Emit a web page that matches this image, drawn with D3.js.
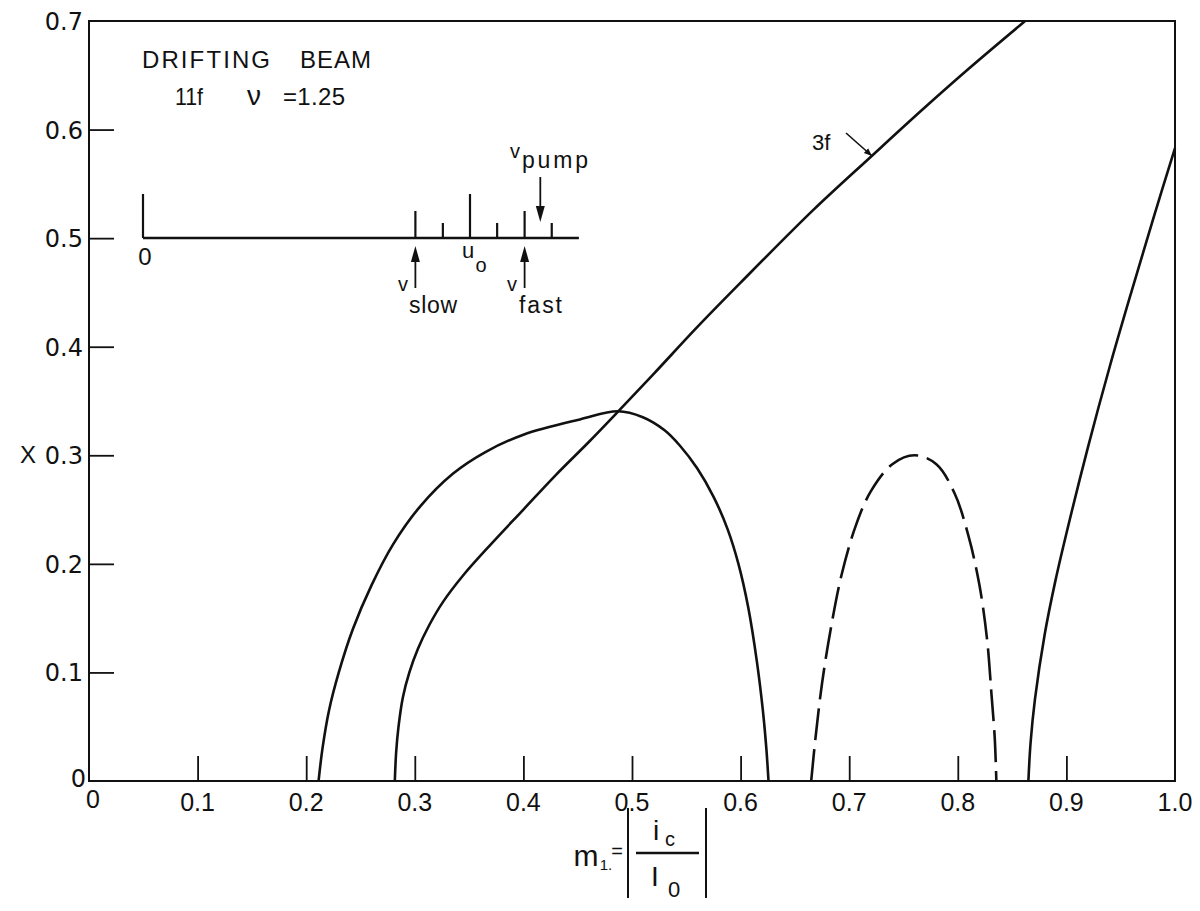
<!DOCTYPE html>
<html>
<head>
<meta charset="utf-8">
<script src="https://cdn.jsdelivr.net/npm/d3@7/dist/d3.min.js"></script>
<style>
  html, body { margin: 0; padding: 0; background: #fff; }
  svg { display: block; }
  text { fill: #111; font-family: "Liberation Sans", "DejaVu Sans", sans-serif; }
  .xt { font-family: "Liberation Sans Narrow", "Liberation Sans", sans-serif; font-stretch: condensed; }
  .yt { font-family: "DejaVu Sans", sans-serif; }
</style>
</head>
<body>
<svg id="chart" width="1200" height="911"></svg>
<script>
// ---- data -------------------------------------------------------------
const xTicks = [0.1, 0.2, 0.3, 0.4, 0.5, 0.6, 0.7, 0.8, 0.9];
const xTickLabels = ["0.1", "0.2", "0.3", "0.4", "0.5", "0.6", "0.7", "0.8", "0.9"];
const yTicks = [0.1, 0.2, 0.3, 0.4, 0.5, 0.6];
const yTickLabels = ["0.1", "0.2", "0.3", "0.4", "0.5", "0.6"];

// lower-threshold branch that peaks near m1 = 0.49
const humpM = [0.2114, 0.215, 0.221, 0.23, 0.243, 0.26, 0.28, 0.305, 0.335, 0.365, 0.40, 0.452, 0.487,
               0.51, 0.53, 0.544, 0.56, 0.575, 0.588, 0.598, 0.607, 0.615, 0.6205, 0.6237, 0.6257];
const humpX = [0, 0.03, 0.065, 0.10, 0.14, 0.18, 0.218, 0.253, 0.283, 0.303, 0.319, 0.333, 0.3405,
               0.335, 0.323, 0.309, 0.288, 0.262, 0.232, 0.20, 0.16, 0.11, 0.065, 0.03, 0];

// 3f branch
const threeFM = [0.2816, 0.2828, 0.285, 0.289, 0.295, 0.303, 0.313, 0.326, 0.345, 0.37, 0.40, 0.43, 0.46, 0.486,
                 0.52, 0.56, 0.60, 0.667, 0.72, 0.767, 0.81, 0.862];
const threeFX = [0, 0.026, 0.05, 0.077, 0.10, 0.122, 0.143, 0.165, 0.19, 0.218, 0.25, 0.282, 0.312, 0.339,
                 0.375, 0.418, 0.459, 0.526, 0.575, 0.618, 0.656, 0.70];

// dashed branch
const dashM = [0.665, 0.669, 0.675, 0.683, 0.693, 0.706, 0.72, 0.74, 0.76, 0.78, 0.797, 0.81, 0.82, 0.827, 0.831, 0.834, 0.8355];
const dashX = [0, 0.04, 0.09, 0.14, 0.19, 0.235, 0.267, 0.292, 0.30, 0.292, 0.265, 0.225, 0.18, 0.13, 0.08, 0.04, 0];

// upper branch
const rightM = [0.865, 0.867, 0.871, 0.88, 0.89, 0.90, 0.92, 0.94, 0.96, 0.98, 1.0];
const rightX = [0, 0.035, 0.075, 0.135, 0.185, 0.228, 0.308, 0.382, 0.451, 0.518, 0.583];

// inset: velocity ticks in units of u0
const insetV = [0, 0.833, 0.917, 1.0, 1.083, 1.167, 1.25];
const insetKind = ["major", "mid", "minor", "major", "minor", "mid", "minor"];

// ---- layout ---------------------------------------------------------------
const svg = d3.select("#chart");
const x = d3.scaleLinear().domain([0, 1]).range([89, 1175]);
const y = d3.scaleLinear().domain([0, 0.7]).range([781, 21]);

const zip = (a, b) => a.map((v, i) => [v, b[i]]);
const line = d3.line().x(d => x(d[0])).y(d => y(d[1])).curve(d3.curveCatmullRom.alpha(0.5));

// frame
svg.append("rect")
  .attr("x", x(0)).attr("y", y(0.7))
  .attr("width", x(1) - x(0)).attr("height", y(0) - y(0.7))
  .attr("fill", "none").attr("stroke", "#111").attr("stroke-width", 2);

// x axis: inward ticks
const xAxis = d3.axisBottom(x).tickValues(xTicks).tickSize(-25).tickFormat("");
const gx = svg.append("g").attr("transform", `translate(0,${y(0)})`).call(xAxis);
gx.select(".domain").remove();
gx.selectAll(".tick line").attr("stroke", "#111").attr("stroke-width", 1.8);

svg.selectAll("text.xt").data(xTicks).join("text")
  .attr("class", "xt")
  .attr("x", d => x(d)).attr("y", y(0) + 30)
  .attr("text-anchor", "middle").attr("font-size", 25)
  .text((d, i) => xTickLabels[i]);
svg.append("text").attr("class", "xt").attr("x", x(0) + 4).attr("y", y(0) + 27)
  .attr("text-anchor", "middle").attr("font-size", 25).text("0");
svg.append("text").attr("class", "xt").attr("x", x(1)).attr("y", y(0) + 30)
  .attr("text-anchor", "middle").attr("font-size", 25).text("1.0");

// y axis: inward ticks
const yAxis = d3.axisLeft(y).tickValues(yTicks).tickSize(-25).tickFormat("");
const gy = svg.append("g").attr("transform", `translate(${x(0)},0)`).call(yAxis);
gy.select(".domain").remove();
gy.selectAll(".tick line").attr("stroke", "#111").attr("stroke-width", 1.8);

svg.selectAll("text.yt").data(yTicks).join("text")
  .attr("class", "yt")
  .attr("x", x(0) - 6).attr("y", d => y(d) + 9)
  .attr("text-anchor", "end").attr("font-size", 24)
  .text((d, i) => yTickLabels[i]);
svg.append("text").attr("class", "yt").attr("x", x(0) - 6).attr("y", y(0.7) + 9)
  .attr("text-anchor", "end").attr("font-size", 24).text("0.7");
svg.append("text").attr("class", "yt").attr("x", x(0) - 3).attr("y", y(0) + 6)
  .attr("text-anchor", "end").attr("font-size", 24).text("0");

// axis titles
svg.append("text").attr("x", 28).attr("y", y(0.3) + 8)
  .attr("text-anchor", "middle").attr("font-size", 24).text("X");

const xl = svg.append("g");
xl.append("text").attr("x", 586).attr("y", 866).attr("font-size", 30).attr("text-anchor", "middle").text("m");
xl.append("text").attr("x", 606).attr("y", 870).attr("font-size", 15).attr("text-anchor", "middle").text("1.");
xl.append("text").attr("x", 617).attr("y", 858).attr("font-size", 20).attr("text-anchor", "middle").text("=");
xl.append("line").attr("x1", 628).attr("x2", 628).attr("y1", 808).attr("y2", 898).attr("stroke", "#111").attr("stroke-width", 2);
xl.append("line").attr("x1", 706).attr("x2", 706).attr("y1", 808).attr("y2", 898).attr("stroke", "#111").attr("stroke-width", 2);
xl.append("line").attr("x1", 636).attr("x2", 699).attr("y1", 853).attr("y2", 853).attr("stroke", "#111").attr("stroke-width", 2.5);
xl.append("text").attr("x", 656).attr("y", 840).attr("font-size", 28).attr("text-anchor", "middle").text("i");
xl.append("text").attr("x", 670).attr("y", 846).attr("font-size", 20).attr("text-anchor", "middle").text("c");
xl.append("text").attr("x", 655).attr("y", 886).attr("font-size", 28).attr("text-anchor", "middle").attr("font-family", "DejaVu Serif").text("I");
xl.append("text").attr("x", 674).attr("y", 897).attr("font-size", 22).attr("text-anchor", "middle").text("0");

// ---- curves ---------------------------------------------------------------
const curves = svg.append("g").attr("fill", "none").attr("stroke", "#111").attr("stroke-width", 2.6);
curves.append("path").attr("d", line(zip(humpM, humpX)));
curves.append("path").attr("d", line(zip(threeFM, threeFX)));
curves.append("path").attr("d", line(zip(rightM, rightX)));
curves.append("path").attr("d", line(zip(dashM, dashX))).attr("stroke-dasharray", "32 9");

// 3f annotation
svg.append("defs").append("marker")
  .attr("id", "head").attr("viewBox", "0 0 10 10").attr("refX", 10).attr("refY", 5)
  .attr("markerWidth", 5).attr("markerHeight", 5).attr("orient", "auto")
  .append("path").attr("d", "M0,1 L10,5 L0,9 Z").attr("fill", "#111");
svg.append("line").attr("x1", 846).attr("y1", 133).attr("x2", 872).attr("y2", 156)
  .attr("stroke", "#111").attr("stroke-width", 1.6).attr("marker-end", "url(#head)");
svg.append("text").attr("x", 812).attr("y", 150).attr("font-size", 22).text("3f");

// ---- inset ----------------------------------------------------------------
const iv = d3.scaleLinear().domain([0, 1]).range([143, 470]);
const base = 238;
const tickLen = { major: 44, mid: 27, minor: 15 };
const inset = svg.append("g").attr("stroke", "#111");
inset.append("line").attr("x1", iv(0)).attr("x2", iv(1.333)).attr("y1", base).attr("y2", base).attr("stroke-width", 2.4);
inset.selectAll(".it").data(insetV).join("line")
  .attr("x1", d => iv(d)).attr("x2", d => iv(d))
  .attr("y1", base).attr("y2", (d, i) => base - tickLen[insetKind[i]])
  .attr("stroke-width", 2.2);

function upArrow(v) {
  const cx = iv(v);
  inset.append("line").attr("x1", cx).attr("x2", cx).attr("y1", 288).attr("y2", 258).attr("stroke-width", 1.8);
  inset.append("path").attr("d", `M${cx},246 L${cx - 4.5},262 L${cx + 4.5},262 Z`).attr("fill", "#111").attr("stroke", "none");
}
upArrow(0.833);
upArrow(1.167);
const pv = iv(1.215);
inset.append("line").attr("x1", pv).attr("x2", pv).attr("y1", 177).attr("y2", 210).attr("stroke-width", 1.8);
inset.append("path").attr("d", `M${pv},222 L${pv - 4.5},206 L${pv + 4.5},206 Z`).attr("fill", "#111").attr("stroke", "none");

svg.append("text").attr("x", iv(0) + 2).attr("y", 265).attr("font-size", 24).attr("text-anchor", "middle").text("0");
svg.append("text").attr("x", 468).attr("y", 258).attr("font-size", 22).attr("text-anchor", "middle").text("u");
svg.append("text").attr("x", 481).attr("y", 272).attr("font-size", 20).attr("text-anchor", "middle").text("o");

svg.append("text").attr("x", 398).attr("y", 291).attr("font-size", 20).text("v");
svg.append("text").attr("x", 409).attr("y", 313).attr("font-size", 23).attr("textLength", 48).text("slow");
svg.append("text").attr("x", 507).attr("y", 291).attr("font-size", 20).text("v");
svg.append("text").attr("x", 519).attr("y", 313).attr("font-size", 23).attr("textLength", 43).text("fast");
svg.append("text").attr("x", 510).attr("y", 158).attr("font-size", 20).text("v");
svg.append("text").attr("x", 522).attr("y", 168).attr("font-size", 23).attr("textLength", 66).text("pump");

svg.append("text").attr("x", 142).attr("y", 68).attr("font-size", 24)
  .attr("textLength", 128).attr("lengthAdjust", "spacing").text("DRIFTING");
svg.append("text").attr("x", 300).attr("y", 68).attr("font-size", 24)
  .attr("textLength", 71).attr("lengthAdjust", "spacing").text("BEAM");
svg.append("text").attr("x", 175).attr("y", 105).attr("font-size", 24)
  .attr("textLength", 28).attr("lengthAdjust", "spacingAndGlyphs").text("11f");
svg.append("text").attr("x", 247).attr("y", 105).attr("font-size", 28).text("ν");
svg.append("text").attr("x", 283).attr("y", 105).attr("font-size", 24)
  .attr("textLength", 62).attr("lengthAdjust", "spacing").text("=1.25");
</script>
</body>
</html>
